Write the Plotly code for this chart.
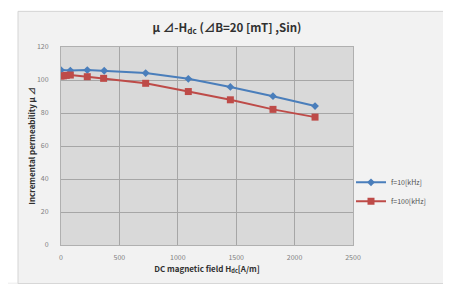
import plotly.graph_objects as go

# Data
h_10k = [0, 80, 225, 370, 725, 1090, 1450, 1815, 2175]
mu_10k = [106.0, 105.7, 106.0, 105.6, 104.2, 100.7, 95.8, 90.2, 84.2]

h_100k = [0, 20, 45, 80, 225, 365, 725, 1090, 1450, 1815, 2175]
mu_100k = [102.4, 102.5, 102.8, 103.0, 102.0, 101.0, 98.0, 93.0, 88.0, 82.2, 77.5]

series_names = ["f=10[kHz]", "f=100[kHz]"]

FONT = "Noto Sans CJK JP, Open Sans, sans-serif"

fig = go.Figure()
fig.add_trace(go.Scatter(
    x=h_10k, y=mu_10k, mode="lines+markers", name=series_names[0],
    line=dict(color="#4a7ebb", width=2),
    marker=dict(symbol="diamond", size=6, color="#4a7ebb"),
))
fig.add_trace(go.Scatter(
    x=h_100k, y=mu_100k, mode="lines+markers", name=series_names[1],
    line=dict(color="#be4b48", width=2),
    marker=dict(symbol="square", size=7, color="#be4b48"),
))

# page has an 8px body margin; figure coordinates below are page - 8
W, H = 443, 276
L, R, T, B = 53, 98, 39, 37
pw, ph = W - L - R, H - T - B

def px_x(p):
    return (p - L) / pw

def px_y(p):
    return (H - B - p) / ph

# white page strips outside the chart container
fig.add_shape(type="rect", xref="paper", yref="paper",
              x0=px_x(-1), x1=px_x(10), y0=px_y(H + 1), y1=px_y(-1),
              fillcolor="white", line=dict(color="white", width=0))
fig.add_shape(type="rect", xref="paper", yref="paper",
              x0=px_x(-1), x1=px_x(W + 1), y0=px_y(3), y1=px_y(-1),
              fillcolor="white", line=dict(color="white", width=0))
fig.add_shape(type="rect", xref="paper", yref="paper",
              x0=px_x(437), x1=px_x(W + 1), y0=px_y(H + 1), y1=px_y(-1),
              fillcolor="white", line=dict(color="white", width=0))
# container border
fig.add_shape(type="rect", xref="paper", yref="paper",
              x0=px_x(10), x1=px_x(437), y0=px_y(H + 2), y1=px_y(3),
              fillcolor="rgba(0,0,0,0)", line=dict(color="#d4d4d4", width=1))

fig.update_layout(
    width=W, height=H,
    margin=dict(l=L, r=R, t=T, b=B),
    paper_bgcolor="#f2f2f2",
    plot_bgcolor="#d9d9d9",
    font=dict(family=FONT, color="#404040"),
    title=dict(
        text="<b>μ ⊿-H<sub>dc</sub> (⊿B=20 [mT] ,Sin)</b>",
        x=219 / W, xref="container", xanchor="center",
        y=1 - 20 / H, yref="container", yanchor="middle",
        font=dict(size=11.5, color="#303030", family=FONT),
    ),
    xaxis=dict(
        range=[0, 2500], dtick=500, tick0=0,
        showgrid=True, gridcolor="#a6a6a6", gridwidth=1,
        showline=True, mirror=True, linecolor="#b0b0b0", linewidth=1,
        zeroline=False, ticks="", ticklabelstandoff=6,
        tickfont=dict(size=7, color="#808080"),
        title=dict(text="<b>DC magnetic field H<sub>dc</sub>[A/m]</b>",
                   font=dict(size=8, color="#303030"), standoff=4),
    ),
    yaxis=dict(
        range=[0, 120], dtick=20, tick0=0,
        showgrid=True, gridcolor="#a6a6a6", gridwidth=1,
        showline=True, mirror=True, linecolor="#b0b0b0", linewidth=1,
        zeroline=False, ticks="", ticklabelstandoff=10,
        tickfont=dict(size=7, color="#808080"),
        title=dict(text="<b>Incremental permeability μ ⊿</b>",
                   font=dict(size=8, color="#303030"), standoff=0),
    ),
    legend=dict(
        x=px_x(343), y=px_y(161), xanchor="left", yanchor="top",
        bgcolor="rgba(0,0,0,0)", itemwidth=30,
        font=dict(size=7, color="#505050"),
        tracegroupgap=0,
    ),
    showlegend=True,
)

fig.write_html("out.html")
